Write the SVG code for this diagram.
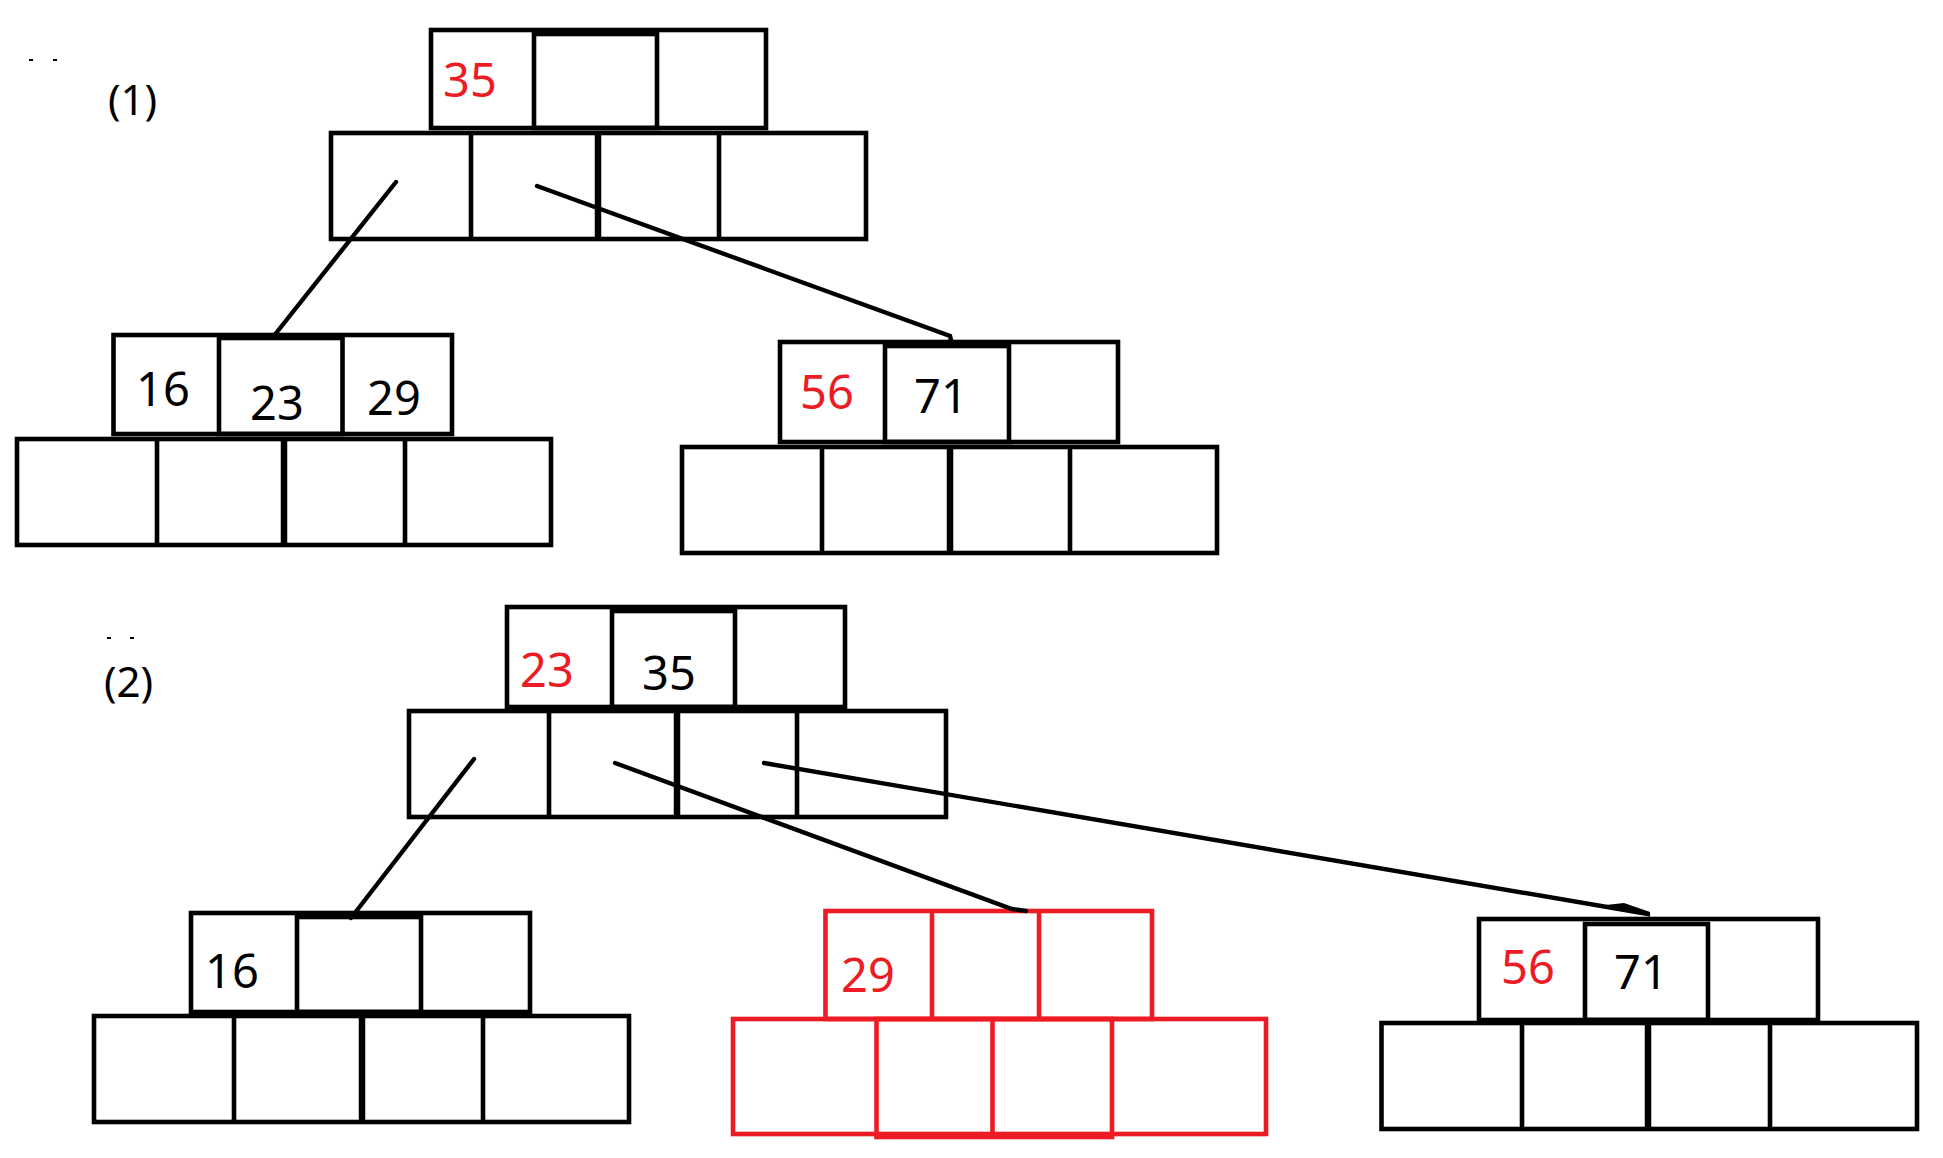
<svg xmlns="http://www.w3.org/2000/svg" width="1943" height="1158" viewBox="0 0 1943 1158">
<style>
.c{fill:none;stroke:#000;stroke-width:4.6}
.t{stroke-width:6.5}
.r{fill:none;stroke:#ED1C24;stroke-width:4.6}
.n{font-family:"Noto Sans","Open Sans","Liberation Sans",sans-serif;font-size:47px;text-anchor:middle;fill:#000}
.red{fill:#ED1C24}
.lab{font-family:"Noto Sans","Open Sans","Liberation Sans",sans-serif;font-size:42px;fill:#000}
.k{stroke:#000;stroke-width:4.4;fill:none;stroke-linecap:round}
</style>
<rect width="1943" height="1158" fill="#fff"/>
<g id="labels">
<rect x="29" y="59" width="4" height="2" fill="#000"/><rect x="53" y="59" width="4" height="2" fill="#000"/>
<text class="lab" x="108" y="115">(1)</text>
<rect x="107" y="637" width="4" height="2" fill="#000"/><rect x="130" y="637" width="4" height="2" fill="#000"/>
<text class="lab" x="104" y="697">(2)</text>
</g>
<g id="root1">
<rect class="c" x="431" y="30" width="335" height="98"/>
<rect class="c" x="534" y="34" width="123" height="94"/>
<rect class="c" x="331" y="133" width="535" height="106"/>
<line class="c" x1="471" y1="133" x2="471" y2="239"/>
<line class="c t" x1="598" y1="133" x2="598" y2="239"/>
<line class="c" x1="719" y1="133" x2="719" y2="239"/>
<text class="n red" x="470" y="97">35</text>
</g>
<g id="child1L">
<rect class="c" x="113.5" y="335" width="338.5" height="99"/>
<rect class="c" x="219" y="338" width="123.5" height="96"/>
<rect class="c" x="17" y="439" width="534" height="106"/>
<line class="c" x1="157" y1="439" x2="157" y2="545"/>
<line class="c t" x1="284" y1="439" x2="284" y2="545"/>
<line class="c" x1="405" y1="439" x2="405" y2="545"/>
<text class="n" x="163" y="406">16</text>
<text class="n" x="277" y="420">23</text>
<text class="n" x="394" y="415">29</text>
</g>
<g id="child1R">
<rect class="c" x="780" y="342" width="338" height="100"/>
<rect class="c" x="885" y="346" width="124" height="96"/>
<rect class="c" x="682" y="447" width="535" height="106"/>
<line class="c" x1="822" y1="447" x2="822" y2="553"/>
<line class="c t" x1="950" y1="447" x2="950" y2="553"/>
<line class="c" x1="1070" y1="447" x2="1070" y2="553"/>
<text class="n red" x="827" y="409">56</text>
<text class="n" x="941" y="413">71</text>
</g>
<g id="root2">
<rect class="c" x="507" y="607" width="338" height="100"/>
<rect class="c" x="612" y="611" width="123" height="96"/>
<rect class="c" x="409" y="711" width="537" height="106"/>
<line class="c" x1="549" y1="711" x2="549" y2="817"/>
<line class="c t" x1="677" y1="711" x2="677" y2="817"/>
<line class="c" x1="797" y1="711" x2="797" y2="817"/>
<text class="n red" x="547" y="687">23</text>
<text class="n" x="669" y="690">35</text>
</g>
<g id="child2L">
<rect class="c" x="191" y="913" width="339" height="99"/>
<rect class="c" x="297" y="917" width="124" height="95"/>
<rect class="c" x="94" y="1016" width="535" height="106"/>
<line class="c" x1="234" y1="1016" x2="234" y2="1122"/>
<line class="c t" x1="362" y1="1016" x2="362" y2="1122"/>
<line class="c" x1="483" y1="1016" x2="483" y2="1122"/>
<text class="n" x="232" y="988">16</text>
</g>
<g id="child2M">
<rect class="r" x="825.5" y="911" width="326.5" height="108"/>
<line class="r" x1="932" y1="911" x2="932" y2="1019"/>
<line class="r" x1="1039" y1="911" x2="1039" y2="1019"/>
<rect class="r" x="733" y="1019" width="533" height="115"/>
<rect class="r" x="876.5" y="1019" width="235.5" height="118"/>
<line class="r" x1="992.5" y1="1019" x2="992.5" y2="1137"/>
<text class="n red" x="868" y="992">29</text>
</g>
<g id="child2R">
<rect class="c" x="1479" y="919" width="339" height="101"/>
<rect class="c" x="1585" y="924" width="123" height="96"/>
<rect class="c" x="1381.5" y="1023" width="535.5" height="106"/>
<line class="c" x1="1522" y1="1023" x2="1522" y2="1129"/>
<line class="c t" x1="1648" y1="1023" x2="1648" y2="1129"/>
<line class="c" x1="1770" y1="1023" x2="1770" y2="1129"/>
<text class="n red" x="1528" y="984">56</text>
<text class="n" x="1641" y="989">71</text>
</g>
<g id="connectors">
<line class="k" x1="396" y1="182" x2="273" y2="337"/>
<polyline class="k" points="537,186 950,336 951,340"/>
<line class="k" x1="474" y1="759" x2="351" y2="918"/>
<polyline class="k" points="615,763 1012,909 1026,911"/>
<line class="k" x1="764" y1="763" x2="1648" y2="914"/>
<polygon points="1606,905 1624,903 1650,912 1650,917 1640,913" fill="#000"/>
</g>
</svg>
